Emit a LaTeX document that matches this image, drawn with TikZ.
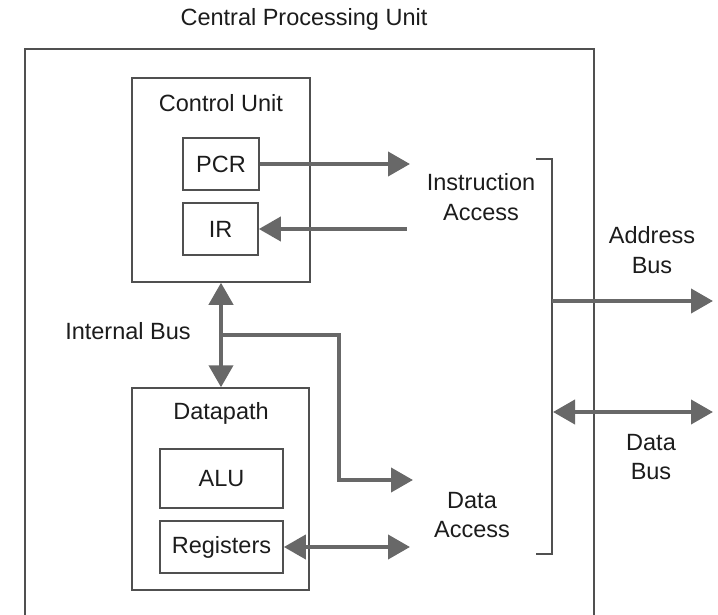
\documentclass[tikz,border=0pt]{standalone}
\usepackage{fontspec}
\setmainfont{Liberation Sans}
\usetikzlibrary{
    arrows.meta,
    positioning,
}
\definecolor{busGray}{RGB}{104,104,104}
\definecolor{lineGray}{RGB}{80,80,80}
\definecolor{textGray}{RGB}{28,28,28}

\begin{document}
\begin{tikzpicture}[x=1pt,y=-1pt,>={Triangle[length=22pt,width=24pt]}]

    \tikzstyle{commonNode}=[font=\fontsize{23.5}{29.5}\selectfont, text=textGray, align=center, inner sep=0pt]
    \tikzstyle{unitBox}=[commonNode, rectangle, draw=lineGray, line width=1.5pt]
    \tikzstyle{regBox}=[unitBox, line width=1.7pt]
    \tikzstyle{plainText}=[commonNode]
    \tikzstyle{busLine}=[draw=busGray, line width=4pt]
    \tikzstyle{busOut}=[busLine, ->]
    \tikzstyle{busIn}=[busLine, <-]
    \tikzstyle{busBoth}=[busLine, <->]

    \useasboundingbox (0,0) rectangle (718,615);
    \clip (0,0) rectangle (718,615);

    \begin{scope}
        % Outer frame
        \node at (309.5,345) [unitBox, minimum width=569pt, minimum height=592pt] (CPU) {};
        \node at (304,19) [plainText] (CPUtitle) {Central Processing Unit};

        % Free ends
        \coordinate (IAin)  at (410,164);
        \coordinate (IAout) at (407,229);
        \coordinate (DAin)  at (413,480);
        \coordinate (DAreg) at (410,547);
        \coordinate (ibJoin) at (221,335);

        % Control unit
        \node at (221,180)   [unitBox, minimum width=178pt, minimum height=204pt] (CU) {};
        \node at (221,103)   [plainText] (CUtitle) {Control Unit};
        \node at (221,164)   [regBox, minimum width=76pt, minimum height=52pt]  (PCR) {PCR}
            edge  [busOut]  (IAin);
        \node at (220.5,229) [regBox, minimum width=75pt, minimum height=52pt]  (IR)  {IR}
            edge  [busIn]   (IAout);

        % Datapath
        \node at (220.5,489) [unitBox, minimum width=177pt, minimum height=202pt] (DP) {};
        \node at (221,413)   [plainText] (DPtitle) {Datapath};
        \node at (221.5,478.5) [regBox, minimum width=123pt, minimum height=59pt] (ALU) {ALU};
        \node at (221.5,547) [regBox, minimum width=123pt, minimum height=52pt]  (REG) {Registers}
            edge  [busBoth] (DAreg);

        % Internal bus
        \draw [busBoth] (CU.south) -- (CU.south |- DP.north);
        \draw [busOut] (ibJoin) -- ++(118,0) |- (DAin);
        \node at (128,331)   [plainText] (IBtitle) {Internal Bus};

        % Access labels and bracket
        \node at (481,197)   [plainText] (IA) {Instruction\\Access};
        \node at (472,515)   [plainText] (DA) {Data\\Access};
        \coordinate (brTop) at (536,159);
        \coordinate (brBot) at (536,554);
        \draw [lineGray, line width=1.5pt] (brTop) -- ++(16,0) |- (brBot);

        % External buses
        \coordinate (abStart) at (552,301);
        \coordinate (abEnd)   at (713,301);
        \coordinate (dbStart) at (553,412);
        \coordinate (dbEnd)   at (713,412);
        \draw [busOut]  (abStart) -- (abEnd);
        \draw [busBoth] (dbStart) -- (dbEnd);
        \node at (652,250)   [plainText] (AB) {Address\\Bus};
        \node at (651,457)   [plainText] (DB) {Data\\Bus};
    \end{scope}

\end{tikzpicture}
\end{document}
